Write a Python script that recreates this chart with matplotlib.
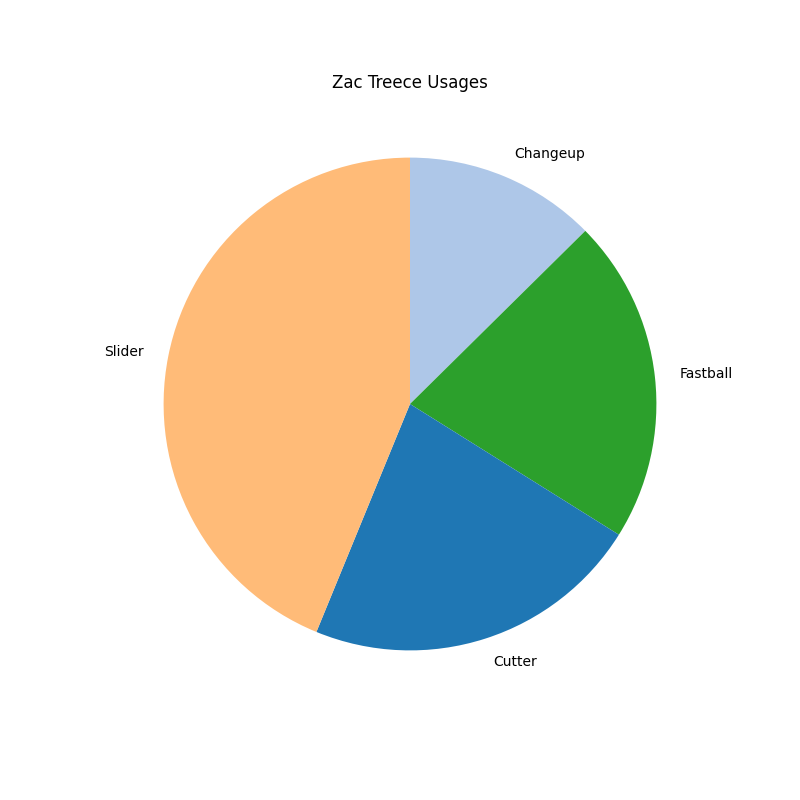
import matplotlib
matplotlib.use("Agg")
import matplotlib.pyplot as plt

pitches = ["Changeup", "Fastball", "Cutter", "Slider"]
usage = [12.6, 21.3, 22.3, 43.8]
colors = ["#aec7e8", "#2ca02c", "#1f77b4", "#ffbb78"]

fig, ax = plt.subplots(figsize=(8, 8), dpi=100)
ax.pie(usage, labels=pitches, colors=colors, startangle=90, counterclock=False)
ax.set_title("Zac Treece Usages")
fig.savefig("out.png")
